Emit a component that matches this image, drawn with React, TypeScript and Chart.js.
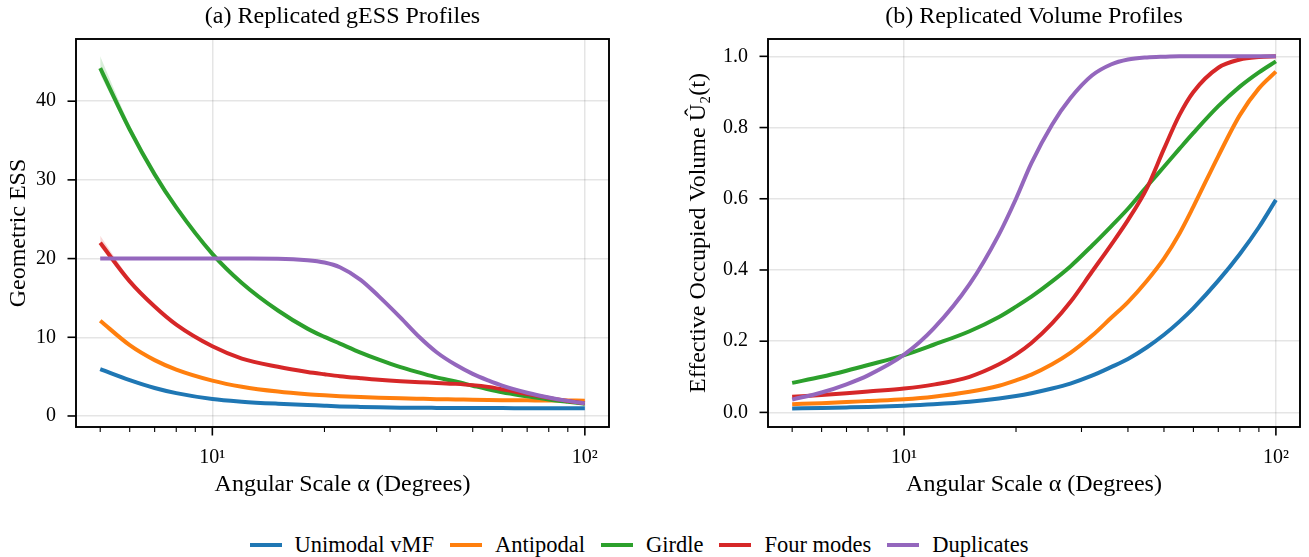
import React, { useEffect, useRef } from "react";
import { Chart, registerables } from "chart.js";

Chart.register(...registerables);

const FONT = "'Liberation Serif', 'DejaVu Serif', serif";

// Angular scale (degrees) at which every profile is sampled
const angles = [5, 6, 7, 8, 10, 12, 15, 18, 20, 22, 25, 28, 32, 36, 40, 45, 50, 55, 60, 70, 80, 90, 100];

// (a) geometric effective sample size, mean over replicates
const gessUnimodal = [5.95, 4.55, 3.55, 2.9, 2.15, 1.82, 1.56, 1.4, 1.3, 1.22, 1.15, 1.1, 1.06, 1.04, 1.03, 1.02, 1.01, 1.0, 1.0, 0.99, 0.99, 0.98, 0.98];
const gessAntipodal = [12.1, 9.0, 7.1, 5.9, 4.5, 3.72, 3.1, 2.76, 2.62, 2.52, 2.41, 2.33, 2.25, 2.19, 2.14, 2.1, 2.06, 2.03, 2.01, 1.99, 1.97, 1.96, 1.95];
const gessGirdle = [44.2, 36.4, 30.7, 26.5, 20.6, 16.9, 13.4, 11.1, 10.05, 9.2, 8.05, 7.15, 6.2, 5.5, 4.9, 4.38, 3.85, 3.38, 3.0, 2.5, 2.1, 1.8, 1.55];
const gessFourModes = [22.0, 17.1, 13.9, 11.6, 8.85, 7.3, 6.25, 5.6, 5.3, 5.05, 4.8, 4.6, 4.42, 4.3, 4.2, 4.08, 3.92, 3.7, 3.4, 2.8, 2.3, 1.9, 1.6];
const gessDuplicates = [20, 20, 20, 20, 20, 19.995, 19.98, 19.8, 19.5, 18.9, 17.3, 15.2, 12.5, 10.0, 8.1, 6.5, 5.35, 4.52, 3.85, 2.95, 2.35, 1.92, 1.6];

// replicate spread (only visible at the smallest scales)
const gessGirdleUpper = [45.7, 37.0, 31.0, 26.7, 20.7, 16.95, 13.45, 11.1, 10.05, 9.2, 8.05, 7.15, 6.2, 5.5, 4.9, 4.38, 3.85, 3.38, 3.0, 2.5, 2.1, 1.8, 1.55];
const gessGirdleLower = [43.4, 36.0, 30.5, 26.35, 20.55, 16.85, 13.35, 11.1, 10.05, 9.2, 8.05, 7.15, 6.2, 5.5, 4.9, 4.38, 3.85, 3.38, 3.0, 2.5, 2.1, 1.8, 1.55];
const gessFourModesUpper = [22.9, 17.5, 14.1, 11.7, 8.9, 7.33, 6.27, 5.6, 5.3, 5.05, 4.8, 4.6, 4.42, 4.3, 4.2, 4.08, 3.92, 3.7, 3.4, 2.8, 2.3, 1.9, 1.6];
const gessFourModesLower = [21.5, 16.85, 13.75, 11.5, 8.8, 7.27, 6.23, 5.6, 5.3, 5.05, 4.8, 4.6, 4.42, 4.3, 4.2, 4.08, 3.92, 3.7, 3.4, 2.8, 2.3, 1.9, 1.6];

// (b) effective occupied volume
const volUnimodal = [0.011, 0.0125, 0.014, 0.0155, 0.019, 0.023, 0.03, 0.039, 0.046, 0.054, 0.067, 0.081, 0.103, 0.127, 0.15, 0.183, 0.218, 0.255, 0.293, 0.37, 0.445, 0.52, 0.597];
const volAntipodal = [0.023, 0.026, 0.029, 0.032, 0.037, 0.044, 0.058, 0.075, 0.09, 0.106, 0.135, 0.167, 0.215, 0.265, 0.31, 0.37, 0.432, 0.502, 0.578, 0.72, 0.835, 0.91, 0.957];
const volGirdle = [0.083, 0.1, 0.117, 0.133, 0.161, 0.19, 0.228, 0.268, 0.297, 0.325, 0.368, 0.41, 0.468, 0.522, 0.572, 0.635, 0.69, 0.74, 0.785, 0.86, 0.915, 0.955, 0.986];
const volFourModes = [0.044, 0.049, 0.054, 0.059, 0.067, 0.078, 0.1, 0.135, 0.163, 0.195, 0.25, 0.31, 0.395, 0.47, 0.54, 0.63, 0.74, 0.835, 0.9, 0.968, 0.991, 0.998, 1.0];
const volDuplicates = [0.036, 0.056, 0.079, 0.104, 0.162, 0.235, 0.36, 0.5, 0.6, 0.7, 0.808, 0.882, 0.946, 0.977, 0.991, 0.997, 0.999, 1.0, 1.0, 1.0, 1.0, 1.0, 1.0];

const seriesNames = ["Unimodal vMF", "Antipodal", "Girdle", "Four modes", "Duplicates"];
const seriesColors = ["#1f77b4", "#ff7f0e", "#2ca02c", "#d62728", "#9467bd"];
const bandColors = ["rgba(44,160,44,0.18)", "rgba(214,39,40,0.18)"];

// Axis ticks
const xTickValues = [5, 6, 7, 8, 9, 10, 20, 30, 40, 50, 60, 70, 80, 90, 100];
const xMajorTicks = [10, 100];
const xMajorLabels: Record<number, string> = { 10: "10¹", 100: "10²" };
const gessTicks = [0, 10, 20, 30, 40];
const volTicks = [0, 0.2, 0.4, 0.6, 0.8, 1.0];

const xLimits = [4.305, 116.1];
const gessLimits = [-1.4, 47.9];
const volLimits = [-0.041, 1.0487];

type PanelSpec = {
  title: string;
  yTitle: string;
  yLimits: number[];
  yTicks: number[];
  yLabel: (v: number) => string;
  series: number[][];
  bands: { upper: number[]; lower: number[]; color: string }[];
  yAxisWidth: number;
  yTitlePad: number;
  rightPad: number;
};

// Axes box plus outward tick marks (long for decades, short for the minor log ticks)
const framePlugin = {
  id: "frame",
  afterDraw(chart: any) {
    const { ctx, chartArea: a, scales } = chart;
    const xs = scales.x;
    const ys = scales.y;
    ctx.save();
    ctx.strokeStyle = "#000";
    ctx.lineCap = "butt";
    for (const v of xTickValues) {
      const px = xs.getPixelForValue(v);
      const major = xMajorTicks.includes(v);
      ctx.lineWidth = major ? 1.6 : 1.1;
      ctx.beginPath();
      ctx.moveTo(px, a.bottom);
      ctx.lineTo(px, a.bottom + (major ? 8.5 : 5));
      ctx.stroke();
    }
    for (const t of ys.ticks) {
      const py = ys.getPixelForValue(t.value);
      ctx.lineWidth = 1.6;
      ctx.beginPath();
      ctx.moveTo(a.left - 8.5, py);
      ctx.lineTo(a.left, py);
      ctx.stroke();
    }
    ctx.lineWidth = 1.9;
    ctx.strokeRect(a.left, a.top, a.right - a.left, a.bottom - a.top);
    ctx.restore();
  },
};

const toPoints = (vals: number[]) => angles.map((a, j) => ({ x: a, y: vals[j] }));

function Panel({ spec, left, width }: { spec: PanelSpec; left: number; width: number }) {
  const ref = useRef<HTMLCanvasElement | null>(null);

  useEffect(() => {
    if (!ref.current) return;
    const lines = spec.series.map((vals, i) => ({
      label: seriesNames[i],
      data: toPoints(vals),
      borderColor: seriesColors[i],
      backgroundColor: seriesColors[i],
      borderWidth: 4,
      pointRadius: 0,
      fill: false,
      order: 4 - i,
      cubicInterpolationMode: "monotone" as const,
    }));
    const bands = spec.bands.flatMap((b, k) => [
      {
        label: "band-upper-" + k,
        data: toPoints(b.upper),
        borderWidth: 0,
        borderColor: "rgba(0,0,0,0)",
        backgroundColor: b.color,
        pointRadius: 0,
        fill: "+1",
        order: 20 + k,
        cubicInterpolationMode: "monotone" as const,
      },
      {
        label: "band-lower-" + k,
        data: toPoints(b.lower),
        borderWidth: 0,
        borderColor: "rgba(0,0,0,0)",
        backgroundColor: b.color,
        pointRadius: 0,
        fill: false,
        order: 20 + k,
        cubicInterpolationMode: "monotone" as const,
      },
    ]);
    const chart = new Chart(ref.current, {
      type: "line",
      data: { datasets: [...lines, ...bands] as any },
      options: {
        animation: false,
        responsive: false,
        devicePixelRatio: 1,
        layout: { padding: { left: 0, right: spec.rightPad, top: 0, bottom: 0 } },
        plugins: {
          legend: { display: false },
          tooltip: { enabled: false },
          title: {
            display: true,
            fullSize: false,
            text: spec.title,
            color: "#000",
            font: { family: FONT, size: 24, weight: "normal" },
            padding: { top: 2.6, bottom: 7.6 },
          },
        },
        scales: {
          x: {
            type: "logarithmic",
            min: xLimits[0],
            max: xLimits[1],
            afterBuildTicks: (scale: any) => {
              scale.ticks = xTickValues.map((v) => ({ value: v, major: xMajorTicks.includes(v) }));
            },
            afterFit: (scale: any) => {
              scale.height = 93;
            },
            border: { display: false },
            grid: {
              drawTicks: false,
              lineWidth: 1.5,
              color: (c: any) =>
                c.tick && xMajorTicks.includes(c.tick.value) ? "rgba(0,0,0,0.1)" : "rgba(0,0,0,0)",
            },
            ticks: {
              autoSkip: false,
              maxRotation: 0,
              padding: 19,
              color: "#000",
              font: { family: FONT, size: 20 },
              callback: (v: any) => xMajorLabels[Number(v)] ?? "",
            },
            title: {
              display: true,
              text: "Angular Scale α (Degrees)",
              color: "#000",
              font: { family: FONT, size: 24 },
              padding: { top: 0, bottom: 21 },
            },
          },
          y: {
            type: "linear",
            min: spec.yLimits[0],
            max: spec.yLimits[1],
            afterBuildTicks: (scale: any) => {
              scale.ticks = spec.yTicks.map((v) => ({ value: v }));
            },
            afterFit: (scale: any) => {
              scale.width = spec.yAxisWidth;
            },
            border: { display: false },
            grid: { drawTicks: false, lineWidth: 1.5, color: "rgba(0,0,0,0.1)" },
            ticks: {
              padding: 20,
              color: "#000",
              font: { family: FONT, size: 20 },
              callback: (v: any) => spec.yLabel(Number(v)),
            },
            title: {
              display: true,
              text: spec.yTitle,
              color: "#000",
              font: { family: FONT, size: 24 },
              padding: { top: spec.yTitlePad, bottom: 0 },
            },
          },
        },
      },
      plugins: [framePlugin],
    });
    return () => chart.destroy();
  }, [spec]);

  return (
    <canvas
      ref={ref}
      width={width}
      height={520}
      style={{ position: "absolute", left, top: 0, width, height: 520 }}
    />
  );
}

const gessPanel: PanelSpec = {
  title: "(a) Replicated gESS Profiles",
  yTitle: "Geometric ESS",
  yLimits: gessLimits,
  yTicks: gessTicks,
  yLabel: (v) => String(v),
  series: [gessUnimodal, gessAntipodal, gessGirdle, gessFourModes, gessDuplicates],
  bands: [
    { upper: gessGirdleUpper, lower: gessGirdleLower, color: bandColors[0] },
    { upper: gessFourModesUpper, lower: gessFourModesLower, color: bandColors[1] },
  ],
  yAxisWidth: 76,
  yTitlePad: 4,
  rightPad: 41,
};

const volPanel: PanelSpec = {
  title: "(b) Replicated Volume Profiles",
  yTitle: "Effective Occupied Volume Û₂(t)",
  yLimits: volLimits,
  yTicks: volTicks,
  yLabel: (v) => v.toFixed(1),
  series: [volUnimodal, volAntipodal, volGirdle, volFourModes, volDuplicates],
  bands: [],
  yAxisWidth: 118,
  yTitlePad: 34,
  rightPad: 9,
};

export default function App() {
  return (
    <div
      style={{
        position: "fixed",
        left: 0,
        top: 0,
        width: 1309,
        height: 557,
        background: "#fff",
        overflow: "hidden",
      }}
    >
      <Panel spec={gessPanel} left={0} width={650} />
      <Panel spec={volPanel} left={650} width={659} />
      <div
        style={{
          position: "absolute",
          left: 0,
          top: 527,
          width: 1278,
          height: 36,
          display: "flex",
          justifyContent: "center",
          alignItems: "center",
          fontFamily: FONT,
          fontSize: 22.5,
          color: "#000",
          whiteSpace: "nowrap",
        }}
      >
        {seriesNames.map((name, i) => (
          <div key={name} style={{ display: "flex", alignItems: "center", margin: "0 8px" }}>
            <div style={{ width: 32, height: 4, background: seriesColors[i], marginRight: 13 }} />
            <span>{name}</span>
          </div>
        ))}
      </div>
    </div>
  );
}
